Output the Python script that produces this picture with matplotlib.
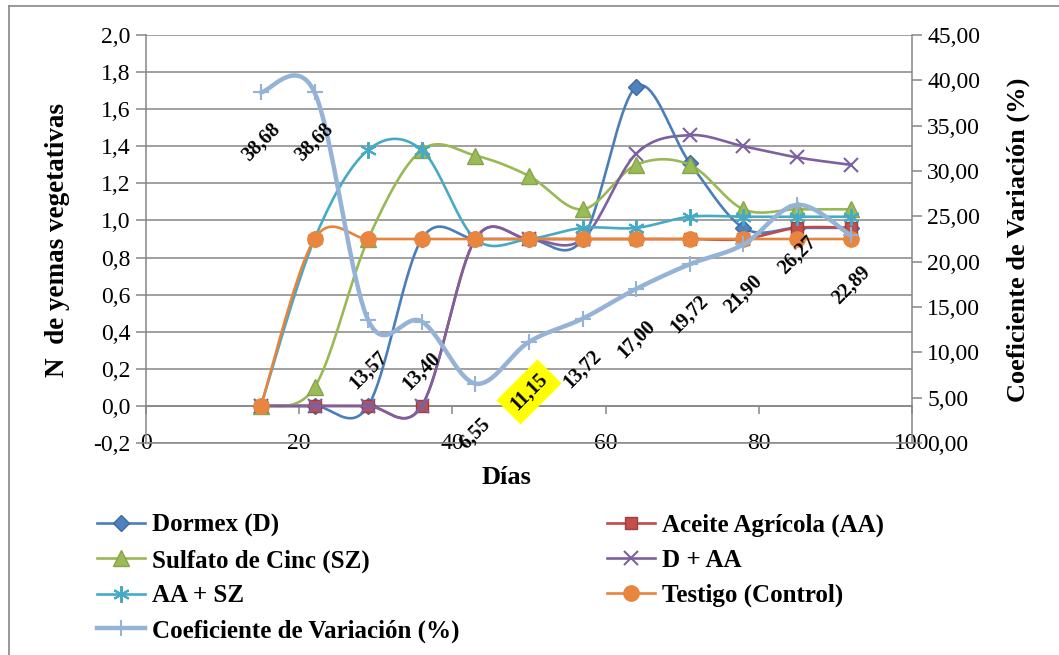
import numpy as np
import matplotlib
matplotlib.use("Agg")
import matplotlib.pyplot as plt
from matplotlib.lines import Line2D
from matplotlib.ticker import FuncFormatter

plt.rcParams['font.family'] = 'serif'
plt.rcParams['font.serif'] = ['Liberation Serif', 'DejaVu Serif']

# ---------------- data ----------------
dias = [15, 22, 29, 36, 43, 50, 57, 64, 71, 78, 85, 92]
dormex = [0, 0, 0, 0.9, 0.9, 0.9, 0.9, 1.72, 1.31, 0.96, 0.96, 0.96]
aceite = [0, 0, 0, 0, 0.9, 0.9, 0.9, 0.9, 0.9, 0.9, 0.96, 0.96]
sulfato = [0, 0.1, 0.9, 1.38, 1.35, 1.24, 1.06, 1.3, 1.3, 1.06, 1.06, 1.06]
d_aa = [0, 0, 0, 0, 0.9, 0.9, 0.9, 1.36, 1.46, 1.4, 1.34, 1.3]
aa_sz = [0, 0.9, 1.38, 1.38, 0.9, 0.9, 0.96, 0.96, 1.02, 1.02, 1.02, 1.02]
testigo = [0, 0.9, 0.9, 0.9, 0.9, 0.9, 0.9, 0.9, 0.9, 0.9, 0.9, 0.9]
cv = [38.68, 38.68, 13.57, 13.40, 6.55, 11.15, 13.72, 17.00, 19.72, 21.90, 26.27, 22.89]
highlight_label = "11,15"

series_names = ["Dormex (D)", "Aceite Agrícola (AA)", "Sulfato de Cinc (SZ)",
                "D + AA", "AA + SZ", "Testigo (Control)"]
cv_name = "Coeficiente de Variación (%)"
x_ticks = [0, 20, 40, 60, 80, 100]

# ---------------- helpers ----------------
def smooth(x, y, n=40):
    P = np.column_stack([x, y]).astype(float)
    out = []
    for i in range(len(P) - 1):
        p0 = P[i - 1] if i > 0 else P[i]
        p1 = P[i]
        p2 = P[i + 1]
        p3 = P[i + 2] if i + 2 < len(P) else P[i + 1]
        c1 = p1 + (p2 - p0) / 6.0
        c2 = p2 - (p3 - p1) / 6.0
        t = np.linspace(0, 1, n)[:, None]
        seg = ((1 - t) ** 3) * p1 + 3 * ((1 - t) ** 2) * t * c1 + 3 * (1 - t) * t ** 2 * c2 + t ** 3 * p2
        out.append(seg if i == 0 else seg[1:])
    s = np.vstack(out)
    return s[:, 0], s[:, 1]

W, H = 1059, 655
fig = plt.figure(figsize=(W / 100, H / 100), dpi=100)
GRAY = '#868686'

L, R, T, B = 146, 912, 35, 443
ax = fig.add_axes([L / W, 1 - B / H, (R - L) / W, (B - T) / H])
ax.set_xlim(0, 100)
ax.set_ylim(-0.2, 2.0)
ax.set_yticks(np.round(np.arange(-0.2, 2.001, 0.2), 1))

def fmt1(v, p):
    if abs(v) < 1e-9:
        v = 0.0
    return f"{v:.1f}".replace('.', ',')

ax.yaxis.set_major_formatter(FuncFormatter(fmt1))
ax.set_xticks(x_ticks)
ax.set_xticklabels([str(t) for t in x_ticks])
ax.yaxis.grid(True, color=GRAY, lw=1.1)
ax.set_axisbelow(True)
for sp in ['top', 'right']:
    ax.spines[sp].set_visible(False)
for sp in ['left', 'bottom']:
    ax.spines[sp].set_color(GRAY)
    ax.spines[sp].set_linewidth(1.1)
ax.tick_params(axis='y', direction='out', length=7, width=1.1, color=GRAY, labelsize=17, pad=4)
ax.tick_params(axis='x', length=0, labelsize=17, pad=-7)

secax = ax.secondary_xaxis(0.2 / 2.2)
secax.set_xticks(x_ticks)
secax.tick_params(axis='x', direction='out', length=6, width=1.1, color=GRAY, labelbottom=False)
secax.spines['bottom'].set_color(GRAY)
secax.spines['bottom'].set_linewidth(1.1)

styles = [
    dict(color='#4A7EBB', marker='D', ms=8, mfc='#4F81BD', mec='#3C6AA5'),
    dict(color='#BE4B48', marker='s', ms=9, mfc='#C0504D', mec='#A0403D'),
    dict(color='#98B954', marker='^', ms=11, mfc='#9BBB59', mec='#86A548'),
    dict(color='#7D60A0', marker='x', ms=10, mfc='#7D60A0', mec='#7D60A0', mew=1.5),
    dict(color='#46AAC5', marker=(6, 2, 0), ms=12, mfc='#46AAC5', mec='#46AAC5', mew=1.5),
    dict(color='#E6843E', marker='o', ms=11, mfc='#E8853F', mec='#E8853F'),
]
values = [dormex, aceite, sulfato, d_aa, aa_sz, testigo]

handles = []
z = 3
for name, vals, st in zip(series_names, values, styles):
    sx, sy = smooth(dias, vals)
    ax.plot(sx, sy, color=st['color'], lw=1.9, zorder=z, solid_capstyle='round')
    ax.plot(dias, vals, ls='none', marker=st['marker'], ms=st['ms'], mfc=st['mfc'],
            mec=st['mec'], mew=st.get('mew', 1.0), zorder=z + 0.5)
    handles.append(Line2D([], [], color=st['color'], lw=1.9, marker=st['marker'], ms=st['ms'],
                          mfc=st['mfc'], mec=st['mec'], mew=st.get('mew', 1.0)))
    z += 1

ax2 = ax.twinx()
ax2.set_ylim(0, 45)
ax2.set_yticks(np.arange(0, 45.01, 5))
ax2.yaxis.set_major_formatter(FuncFormatter(lambda v, p: f"{v:.2f}".replace('.', ',')))
for sp in ['top', 'left', 'bottom']:
    ax2.spines[sp].set_visible(False)
ax2.spines['right'].set_color(GRAY)
ax2.spines['right'].set_linewidth(1.1)
ax2.tick_params(axis='y', direction='out', length=7, width=1.1, color=GRAY, labelsize=17, pad=4)
ax2.patch.set_visible(False)

CVC = '#95B3D7'
sx, sy = smooth(dias, cv)
ax2.plot(sx, sy, color=CVC, lw=3.2, zorder=3, solid_capstyle='round')
ax2.plot(dias, cv, ls='none', marker='+', ms=12, mew=1.5, color=CVC, zorder=3.5)
cv_handle = Line2D([], [], color=CVC, lw=3.2, marker='+', ms=12, mew=1.5)

for d, v in zip(dias, cv):
    lab = f"{v:.2f}".replace('.', ',')
    kw = dict(xytext=(0, -36), textcoords='offset points', ha='center', va='center',
              rotation=45, rotation_mode='anchor', fontsize=14.5, fontweight='bold', zorder=6)
    if lab == highlight_label:
        kw['bbox'] = dict(boxstyle='square,pad=0.35', fc='yellow', ec='none')
    ax2.annotate(lab, (d, v), **kw)

# axis titles
fig.text(57 / W, 1 - 240 / H, "N  de yemas vegetativas", rotation=90, ha='center', va='center',
         fontsize=19.5, fontweight='bold')
fig.text(1018 / W, 1 - 240 / H, "Coeficiente de Variación (%)", rotation=90, ha='center', va='center',
         fontsize=19, fontweight='bold')
fig.text(507 / W, 1 - 477 / H, "Días", ha='center', va='center', fontsize=19, fontweight='bold')

# legends
leg_kw = dict(loc='upper left', frameon=False, borderpad=0, borderaxespad=0,
              handlelength=1.92, handletextpad=0.3, labelspacing=0.47,
              prop=dict(family='serif', weight='bold', size=18))
left_h = [handles[0], handles[2], handles[4], cv_handle]
left_l = [series_names[0], series_names[2], series_names[4], cv_name]
right_h = [handles[1], handles[3], handles[5]]
right_l = [series_names[1], series_names[3], series_names[5]]
fig.legend(left_h, left_l, bbox_to_anchor=(97 / W, 1 - 514 / H), **leg_kw)
fig.legend(right_h, right_l, bbox_to_anchor=(607 / W, 1 - 514 / H), **leg_kw)

# outer frame lines
fig.add_artist(Line2D([9 / W, 1], [1 - 6 / H, 1 - 6 / H], transform=fig.transFigure, color=GRAY, lw=1.2))
fig.add_artist(Line2D([9 / W, 9 / W], [1 - 6 / H, 0], transform=fig.transFigure, color=GRAY, lw=1.2))

fig.savefig("out.png", dpi=100)
